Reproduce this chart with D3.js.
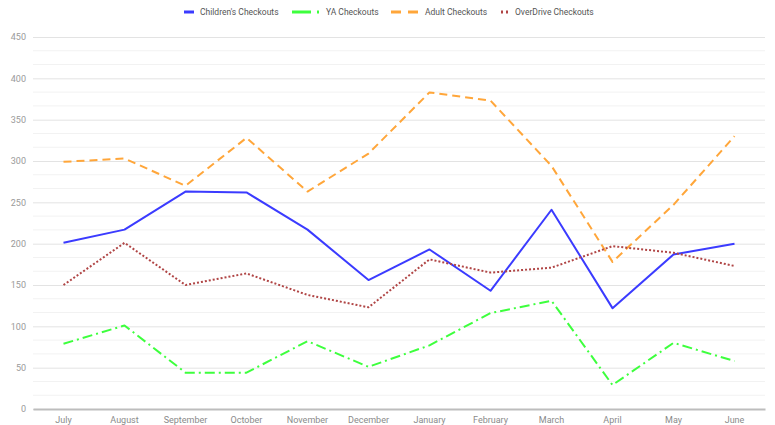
<!DOCTYPE html>
<html>
<head>
<meta charset="utf-8">
<script src="https://cdn.jsdelivr.net/npm/d3@7"></script>
<style>
  body { margin: 0; background: #fff; }
  text { font-family: Roboto, "Liberation Sans", sans-serif; }
</style>
</head>
<body>
<svg id="chart" width="775" height="425"></svg>
<script>
// month labels along the bottom
const months = ["July", "August", "September", "October", "November", "December",
  "January", "February", "March", "April", "May", "June"];

// checkouts per series
const childrens = [201, 217, 263, 262, 217, 156, 193, 143, 241, 122, 187, 200];
const ya        = [79, 101, 44, 44, 82, 51, 77, 116, 131, 29, 80, 58];
const adult     = [299, 303, 270, 328, 263, 309, 383, 373, 294, 178, 247, 330];
const overdrive = [150, 201, 150, 164, 138, 123, 181, 165, 171, 197, 189, 173];

const yTicks = [0, 50, 100, 150, 200, 250, 300, 350, 400, 450];

const series = [
  {name: "Children's Checkouts", values: childrens, color: "#3b3bff", dash: null, width: 2},
  {name: "YA Checkouts", values: ya, color: "#3dff3d", dash: "10,4,2,4", width: 2},
  {name: "Adult Checkouts", values: adult, color: "#ffa63a", dash: "8,5", width: 2},
  {name: "OverDrive Checkouts", values: overdrive, color: "#b04545", dash: "2,2", width: 2}
];

const margin = {left: 33, right: 10, top: 37, bottom: 16};
const width = 775, height = 425;

const svg = d3.select("#chart");

const x = d3.scaleBand().domain(months).range([margin.left, width - margin.right]);
const y = d3.scaleLinear().domain([0, 450]).range([height - margin.bottom, margin.top]);

// minor grid lines (two between each labelled step)
const minor = d3.range(0, 450, 50 / 3).filter(v => Math.abs(v % 50) > 1 && Math.abs(v % 50 - 50) > 1);
svg.append("g")
  .selectAll("line")
  .data(minor)
  .join("line")
  .attr("x1", margin.left).attr("x2", width - margin.right)
  .attr("y1", d => y(d)).attr("y2", d => y(d))
  .attr("stroke", "#f2f2f2").attr("stroke-width", 1);

// major grid lines + y labels
const yAxis = svg.append("g")
  .attr("transform", `translate(${margin.left},0)`)
  .call(d3.axisLeft(y).tickValues(yTicks).tickSize(-(width - margin.left - margin.right)).tickPadding(7));
yAxis.select(".domain").remove();
yAxis.selectAll(".tick line").attr("stroke", "#e3e3e3");
yAxis.selectAll(".tick text").attr("fill", "#9a9a9a").style("font-size", "9px");

// bottom axis
const xAxis = svg.append("g")
  .attr("transform", `translate(0,${y(0)})`)
  .call(d3.axisBottom(x).tickSize(0).tickPadding(8));
xAxis.select(".domain").attr("stroke", "#bdbdbd").attr("stroke-width", 2);
xAxis.selectAll(".tick text").attr("fill", "#8a8a8a").style("font-size", "9px");

// lines
const line = d3.line()
  .x((d, i) => x(months[i]) + x.bandwidth() / 2)
  .y(d => y(d));

svg.append("g")
  .selectAll("path")
  .data(series)
  .join("path")
  .attr("d", d => line(d.values))
  .attr("fill", "none")
  .attr("stroke", d => d.color)
  .attr("stroke-width", d => d.width)
  .attr("stroke-dasharray", d => d.dash)
  .attr("stroke-linejoin", "round");

// legend
const legendX = [184, 292, 391, 501];
const legend = svg.append("g").attr("transform", "translate(0,12)");
const items = legend.selectAll("g")
  .data(series)
  .join("g")
  .attr("transform", (d, i) => `translate(${legendX[i]},0)`);

items.each(function (d, i) {
  const g = d3.select(this);
  let w;
  if (i === 0) {
    w = 10;
    g.append("line").attr("x1", 0).attr("x2", w).attr("stroke", d.color).attr("stroke-width", 3);
  } else if (i === 1) {
    w = 28;
    g.append("line").attr("x1", 0).attr("x2", 19).attr("stroke", d.color).attr("stroke-width", 3);
    g.append("line").attr("x1", 25).attr("x2", 27).attr("stroke", d.color).attr("stroke-width", 3);
  } else if (i === 2) {
    w = 28;
    g.append("line").attr("x1", 0).attr("x2", 10).attr("stroke", d.color).attr("stroke-width", 3);
    g.append("line").attr("x1", 17).attr("x2", 27).attr("stroke", d.color).attr("stroke-width", 3);
  } else {
    w = 8;
    g.append("line").attr("x1", 0).attr("x2", 2).attr("stroke", d.color).attr("stroke-width", 3);
    g.append("line").attr("x1", 5).attr("x2", 7).attr("stroke", d.color).attr("stroke-width", 3);
  }
  g.append("text")
    .attr("x", w + 6).attr("y", 0).attr("dy", "0.35em")
    .attr("fill", "#555").style("font-size", "8.5px")
    .text(d.name);
});
</script>
</body>
</html>
